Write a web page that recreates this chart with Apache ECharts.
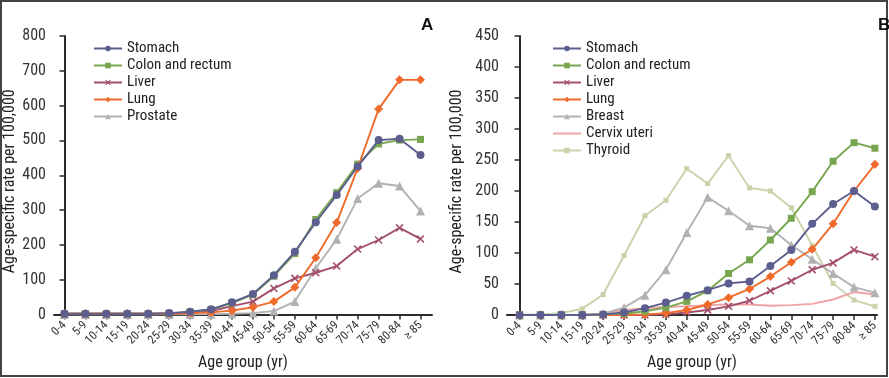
<!DOCTYPE html>
<html><head><meta charset="utf-8">
<script src="https://cdn.jsdelivr.net/npm/echarts@6/dist/echarts.min.js"></script>
<style>html,body{margin:0;padding:0;background:#fff}#c{width:889px;height:378px}</style>
</head><body><div id="c"></div>
<script>
const ageGroups = ['0-4','5-9','10-14','15-19','20-24','25-29','30-34','35-39','40-44','45-49','50-54','55-59','60-64','65-69','70-74','75-79','80-84','\u2265 85'];

// Panel A
const stomachA  = [2,2,2,2,2,4,8,15,35,59,113,180,265,343,425,501,505,458];
const colonA    = [2,2,2,2,2,3,7,14,33,57,110,175,273,350,432,490,501,503];
const liverA    = [1,1,1,1,1,2,4,10,24,37,75,104,120,139,188,214,249,217];
const lungA     = [3,3,3,3,3,3,4,6,11,21,37,78,163,264,420,590,674,674];
const prostateA = [0,0,0,0,0,0,0,1,2,4,10,37,133,216,333,377,369,297];

// Panel B
const stomachB = [0,0,0,0,1,4,11,20,31,40,51,54,79,105,147,179,200,175];
const colonB   = [0,0,0,0,1,2,6,12,22,39,67,89,121,156,199,248,278,269];
const liverB   = [0,0,0,0,0,0,0,1,4,8,14,23,39,55,73,84,105,94];
const lungB    = [0,0,0,0,0,0,1,3,8,17,28,42,62,85,106,147,200,243];
const breastB  = [0,0,0,0,2,12,32,73,133,190,168,144,140,113,90,67,45,36];
const cervixB  = [0,0,0,0,2,8,11,13,14,16,17,17,15,16,18,25,37,33];
const thyroidB = [1,1,3,10,33,96,160,185,236,212,257,205,200,173,112,51,24,14];

const namesA = ['Stomach','Colon and rectum','Liver','Lung','Prostate'];
const namesB = ['Stomach','Colon and rectum','Liver','Lung','Breast','Cervix uteri','Thyroid'];

const FONT = "'Liberation Sans Narrow','Roboto Condensed','DejaVu Sans Condensed','Liberation Sans',sans-serif";
const AX = '#2b2b2b';
const C = {
  stomach:'#5b5e8e', colon:'#78a64e', liver:'#a4506a', lung:'#f06a2c',
  gray:'#b2b2b5', cervix:'#eea4a4', thyroid:'#c8d3aa'
};
const XSYM = 'path://M0,1.4L1.4,0L5,3.6L8.6,0L10,1.4L6.4,5L10,8.6L8.6,10L5,6.4L1.4,10L0,8.6L3.6,5Z';

function mk(name, vals, color, symbol, size, idx, z) {
  return {
    type:'line', name, xAxisIndex:idx, yAxisIndex:idx,
    data: vals.map((v,i)=>[i,v]),
    symbol, symbolSize:size, showSymbol: symbol!=='none',
    lineStyle:{color, width:1.9}, itemStyle:{color},
    z: z, animation:false
  };
}

const idxs = ageGroups.map((_,i)=>i);
function xAxis(gridIndex, min, max) {
  return {
    type:'value', gridIndex, min, max,
    splitLine:{show:false},
    axisLine:{show:true, onZero:false, lineStyle:{color:AX, width:2}},
    axisTick:{show:true, customValues:idxs, length:5, lineStyle:{color:AX, width:1.5}},
    axisLabel:{customValues:idxs, formatter:v=>ageGroups[Math.round(v)], rotate:45,
      fontSize:12, color:'#333', fontFamily:FONT, margin:9},
    name:'Age group (yr)', nameLocation:'middle', nameGap:40,
    nameTextStyle:{fontSize:16, color:'#222', fontFamily:FONT}
  };
}
function yAxis(gridIndex, max, interval, gap) {
  return {
    type:'value', gridIndex, min:0, max, interval,
    splitLine:{show:false},
    axisLine:{show:true, lineStyle:{color:AX, width:2}},
    axisTick:{show:true, length:5, lineStyle:{color:AX, width:1.5}},
    axisLabel:{fontSize:16, color:'#333', fontFamily:FONT, margin:8},
    name:'Age-specific rate per 100,000', nameLocation:'middle', nameGap:gap,
    nameTextStyle:{fontSize:16, color:'#222', fontFamily:FONT, padding:[0,12,0,0]}
  };
}
function legend(left, data) {
  return {
    orient:'vertical', left, top:36, data,
    itemWidth:28, itemHeight:7, itemGap:2, selectedMode:false,
    textStyle:{fontSize:15, lineHeight:15, color:'#222', fontFamily:FONT}
  };
}

const series = [
  mk('Prostate', prostateA, C.gray, 'triangle', 9, 0, 2),
  mk('Liver', liverA, C.liver, XSYM, 8, 0, 3),
  mk('Colon and rectum', colonA, C.colon, 'rect', 7, 0, 4),
  mk('Lung', lungA, C.lung, 'diamond', 9, 0, 5),
  mk('Stomach', stomachA, C.stomach, 'circle', 8, 0, 6),

  mk('Thyroid', thyroidB, C.thyroid, 'rect', 5, 1, 2),
  mk('Cervix uteri', cervixB, C.cervix, 'none', 0, 1, 2),
  mk('Breast', breastB, C.gray, 'triangle', 9, 1, 3),
  mk('Liver', liverB, C.liver, XSYM, 8, 1, 3),
  mk('Lung', lungB, C.lung, 'diamond', 9, 1, 4),
  mk('Colon and rectum', colonB, C.colon, 'rect', 7, 1, 4),
  mk('Stomach', stomachB, C.stomach, 'circle', 8, 1, 5)
];

const legendB = namesB.map(n => n === 'Cervix uteri' ? {name:n, itemStyle:{opacity:0}} : n);

const chart = echarts.init(document.getElementById('c'), null, {renderer:'canvas'});
chart.setOption({
  backgroundColor:'#fff',
  animation:false,
  grid:[
    {left:54, top:36, width:378, height:278.5},
    {left:507, top:36, width:370, height:279}
  ],
  xAxis:[xAxis(0, -0.5, 17.55), xAxis(1, -0.6, 17.1)],
  yAxis:[yAxis(0, 800, 100, 34), yAxis(1, 450, 50, 42)],
  legend:[legend(88, namesA), legend(547, legendB)],
  title:[
    {text:'A', left:416, top:12, textStyle:{fontSize:17, fontWeight:'bold', color:'#111', fontFamily:"'Liberation Sans',sans-serif"}},
    {text:'B', left:873, top:12, textStyle:{fontSize:17, fontWeight:'bold', color:'#111', fontFamily:"'Liberation Sans',sans-serif"}}
  ],
  graphic:[{type:'rect', shape:{x:1, y:1, width:886, height:375}, style:{fill:null, stroke:'#444', lineWidth:2}, silent:true}],
  series
});
</script></body></html>
